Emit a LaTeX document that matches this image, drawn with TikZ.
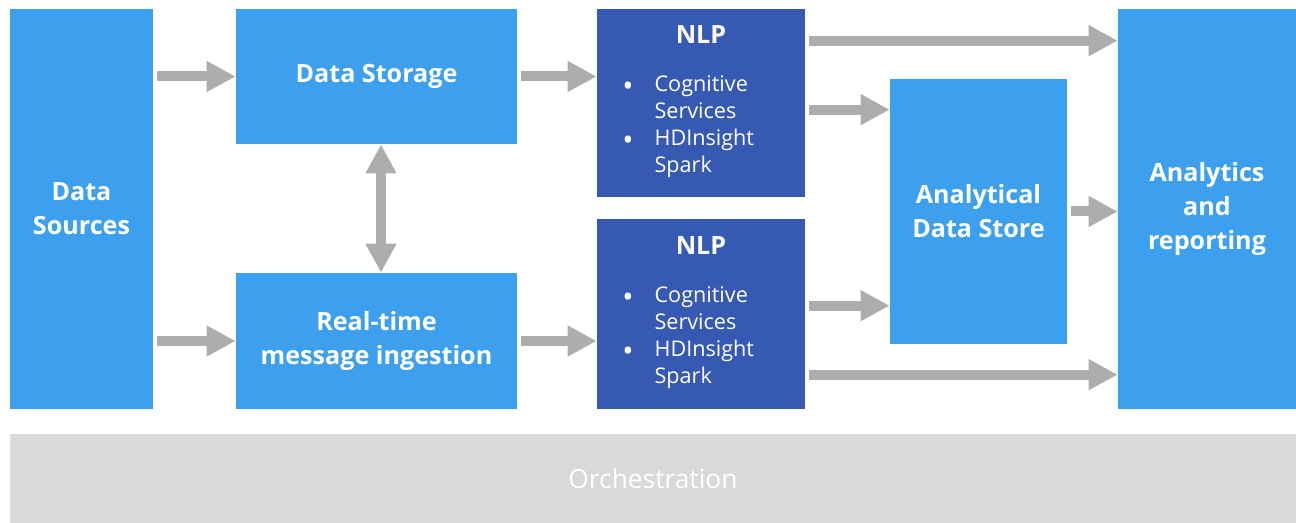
\documentclass[tikz,border=0pt]{standalone}
\usepackage{fontspec}
\setmainfont{Open Sans}
\usetikzlibrary{arrows.meta,calc}
\definecolor{boxblue}{HTML}{3DA0EE}
\definecolor{nlpblue}{HTML}{3659B3}
\definecolor{arrowgray}{HTML}{ADADAD}
\definecolor{orchgray}{HTML}{D9D9D9}
\newcommand{\bigdot}{\raisebox{-0.22em}{\fontsize{17}{15.4}\selectfont\textbullet}}
\begin{document}
\begin{tikzpicture}[x=0.02cm, y=-0.02cm,
    block/.style={fill=boxblue, text=white, inner sep=0pt, align=center,
      font=\fontsize{14.3}{19.3}\selectfont\bfseries},
    nlpbox/.style={fill=nlpblue, inner sep=0pt},
    title/.style={text=white, inner sep=0pt, font=\fontsize{14.3}{19.3}\selectfont\bfseries},
    items/.style={text=white, inner sep=0pt, anchor=west,
      font=\fontsize{12.3}{15.4}\selectfont},
    arr/.style={draw=arrowgray, line width=0.2cm, shorten <=2pt,
      -{Triangle[length=0.58cm, width=0.58cm, fill=arrowgray]}},
    darr/.style={draw=arrowgray, line width=0.2cm,
      {Triangle[length=0.58cm, width=0.58cm, fill=arrowgray]}-{Triangle[length=0.58cm, width=0.58cm, fill=arrowgray]}}]

    \useasboundingbox (0,0) rectangle (1296,523);

    % Blöcke
    \node[block, minimum width=2.86cm, minimum height=8cm] (src) at (81.5, 209) {Data\\Sources};
    \node[block, minimum width=5.62cm, minimum height=2.7cm] (store) at (376.5, 76.5) {Data Storage};
    \node[block, minimum width=5.62cm, minimum height=2.72cm] (rt) at (376.5, 341) {Real-time\\message ingestion};
    \node[nlpbox, minimum width=4.16cm, minimum height=3.76cm] (nlpA) at (701, 103) {};
    \node[nlpbox, minimum width=4.16cm, minimum height=3.8cm] (nlpB) at (701, 314) {};
    \node[block, minimum width=3.54cm, minimum height=5.3cm] (ads) at (978.5, 211.5) {Analytical\\Data Store};
    \node[block, minimum width=3.56cm, minimum height=8cm] (rep) at (1207, 209) {Analytics\\and\\reporting};
    \node[fill=orchgray, text=white, inner sep=0pt, minimum width=25.72cm, minimum height=1.78cm,
      font=\fontsize{15}{19}\selectfont] (orch) at (653, 478.5) {Orchestration};

    % NLP Inhalt
    \node[title] (nlpAtitle) at (701, 35) {NLP};
    \node[items] (nlpAitems) at (622, 127) {\begin{tabular}{@{}l@{\hspace{0.42cm}}l@{}}
      \bigdot & Cognitive\\ & Services\\ \bigdot & HDInsight\\ & Spark\end{tabular}};
    \node[title] (nlpBtitle) at (701, 246) {NLP};
    \node[items] (nlpBitems) at (622, 338) {\begin{tabular}{@{}l@{\hspace{0.42cm}}l@{}}
      \bigdot & Cognitive\\ & Services\\ \bigdot & HDInsight\\ & Spark\end{tabular}};

    % Abzweigpunkte
    \coordinate (aTop) at ($(nlpA.north east)+(0,32)$);
    \coordinate (aMid) at ($(nlpA.north east)+(0,101)$);
    \coordinate (bMid) at ($(nlpB.north east)+(0,87)$);
    \coordinate (bLow) at ($(nlpB.north east)+(0,156)$);

    % Pfeile
    \draw[arr] (src.east |- store.west) -- (store.west);
    \draw[arr] (src.east |- rt.west) -- (rt.west);
    \draw[arr] (store.east) -- (store.east -| nlpA.west);
    \draw[arr] (rt.east) -- (rt.east -| nlpB.west);
    \draw[darr] ([xshift=0.09cm]store.south) -- ([xshift=0.09cm]rt.north);
    \draw[arr] (aTop) -- (aTop -| rep.west);
    \draw[arr] (aMid) -- (aMid -| ads.west);
    \draw[arr] (bMid) -- (bMid -| ads.west);
    \draw[arr] (bLow) -- (bLow -| rep.west);
    \draw[arr] (ads.east) -- (ads.east -| rep.west);
\end{tikzpicture}
\end{document}
